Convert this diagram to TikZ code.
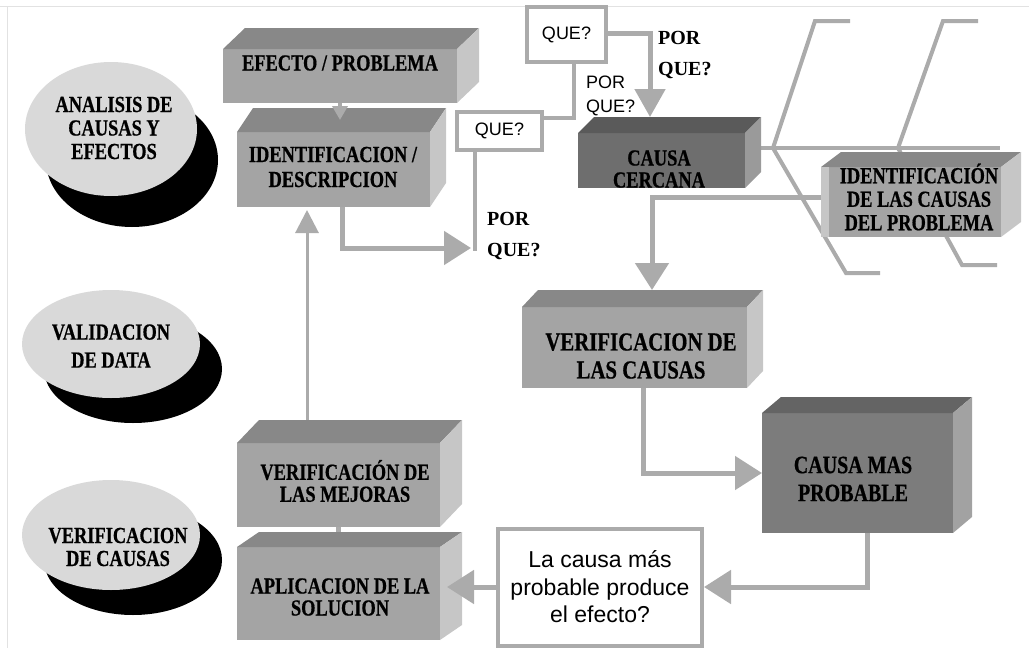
\documentclass[tikz,border=0pt]{standalone}
\usepackage{fontspec}
\setmainfont{Liberation Serif}
\newfontfamily\boxfnt{Liberation Serif}[FakeStretch=0.8, FakeBold=0.6]
\newfontfamily\sansfnt{Liberation Sans}
\usetikzlibrary{arrows.meta,shapes.geometric}
\pgfdeclarelayer{bg}
\pgfsetlayers{bg,main}
\definecolor{medf}{HTML}{A4A4A4}
\definecolor{medt}{HTML}{888888}
\definecolor{meds}{HTML}{C6C6C6}
\definecolor{darkaf}{HTML}{6E6E6E}
\definecolor{darkat}{HTML}{5A5A5A}
\definecolor{darkas}{HTML}{9A9A9A}
\definecolor{darkbf}{HTML}{7C7C7C}
\definecolor{darkbt}{HTML}{646464}
\definecolor{darkbs}{HTML}{A2A2A2}
\definecolor{ellc}{HTML}{D9D9D9}
\definecolor{linec}{HTML}{ABABAB}
\definecolor{framec}{HTML}{E2E2E2}
\newcommand\cubefaces[5]{%
  \fill[#4] (#1.north west) -- ([shift={(#2pt,#3pt)}]#1.north west) -- ([shift={(#2pt,#3pt)}]#1.north east) -- (#1.north east) -- cycle;
  \fill[#5] (#1.north east) -- ([shift={(#2pt,#3pt)}]#1.north east) -- ([shift={(#2pt,#3pt)}]#1.south east) -- (#1.south east) -- cycle;
  \coordinate (#1-t) at ([yshift=#3pt]#1.north);
}
\tikzset{
  face/.style={fill=#1, draw=none, inner sep=0pt, outer sep=0pt},
  btxt/.style args={#1/#2}{font=\boxfnt\bfseries\fontsize{#1}{#2}\selectfont, align=center, inner sep=0pt, text=black},
  ptxt/.style={font=\bfseries\fontsize{20}{31}\selectfont, align=left, inner sep=0pt, anchor=west},
  stxt/.style={font=\sansfnt\fontsize{18}{24}\selectfont, align=left, inner sep=0pt, anchor=west},
  elli/.style={ellipse, draw=none, inner sep=0pt, fill=#1},
  qbox/.style={draw=linec, line width=4pt, fill=white, inner sep=0pt, font=\sansfnt\fontsize{18}{22}\selectfont},
  conn/.style={draw=linec, line width=5pt},
  fish/.style={draw=linec, line width=4pt},
  Bigtri/.tip={Triangle[length=27pt,width=33pt]},
  Midtri/.tip={Triangle[length=23pt,width=23pt]},
  Smalltri/.tip={Triangle[length=14pt,width=15pt]},
}
\begin{document}
\begin{tikzpicture}[x=1pt,y=-1pt]
\useasboundingbox (0,0) rectangle (1029,648);
\draw[framec, line width=1pt] (0,6) -- (1029,6) (7,6) -- (7,648);

% ellipses with shadows
\node[elli=black, minimum width=172pt, minimum height=134pt] (e1s) at (132,160) {};
\node[elli=ellc, minimum width=172pt, minimum height=134pt] (e1) at (111,129) {};
\node[btxt=23/23.5] (e1t) at (114,128) {ANALISIS DE\\CAUSAS Y\\EFECTOS};
\node[elli=black, minimum width=178pt, minimum height=108pt] (e2s) at (133,369) {};
\node[elli=ellc, minimum width=178pt, minimum height=108pt] (e2) at (111,344) {};
\node[btxt=23/28] (e2t) at (111,346) {VALIDACION\\DE DATA};
\node[elli=black, minimum width=178pt, minimum height=110pt] (e3s) at (133,560) {};
\node[elli=ellc, minimum width=178pt, minimum height=110pt] (e3) at (111,535) {};
\node[btxt=23/23] (e3t) at (118,547) {VERIFICACION\\DE CAUSAS};

% 3D boxes
\node[face=medf, minimum width=234pt, minimum height=54pt] (efecto) at (340,76) {};
\cubefaces{efecto}{22}{21}{medt}{meds}
\node[btxt=23/25] (efectot) at (340,63) {EFECTO / PROBLEMA};

\node[face=medf, minimum width=193pt, minimum height=75pt] (ident) at (333.5,169.5) {};
\cubefaces{ident}{16}{24}{medt}{meds}
\node[btxt=23/25] (identt) at (333,167) {IDENTIFICACION /\\DESCRIPCION};

\node[face=darkaf, minimum width=167pt, minimum height=55pt] (cercana) at (661.5,160.5) {};
\cubefaces{cercana}{16}{16}{darkat}{darkas}
\node[btxt=23/22] (cercanat) at (659,169) {CAUSA\\CERCANA};

\node[face=medf, minimum width=180pt, minimum height=70pt] (idcausas) at (911,202) {};
\cubefaces{idcausas}{20}{15}{medt}{meds}
\fill[meds] (idcausas.north west) rectangle ([xshift=8pt]idcausas.south west);
\node[btxt=23/23.5] (idcausast) at (919,197) {IDENTIFICACIÓN\\DE LAS CAUSAS\\DEL PROBLEMA};

\node[face=medf, minimum width=225pt, minimum height=81pt] (vercausas) at (634.5,347.5) {};
\cubefaces{vercausas}{16}{17}{medt}{meds}
\node[btxt=26/28] (vercausast) at (641,356) {VERIFICACION DE\\LAS CAUSAS};

\node[face=darkbf, minimum width=191pt, minimum height=120pt] (masprob) at (857.5,473) {};
\cubefaces{masprob}{19}{16}{darkbt}{darkbs}
\node[btxt=25/28] (masprobt) at (853,479) {CAUSA MAS\\PROBABLE};

\node[face=medf, minimum width=203pt, minimum height=84pt] (mejoras) at (338.5,485) {};
\cubefaces{mejoras}{22}{23}{medt}{meds}
\node[btxt=23/22] (mejorast) at (345,481) {VERIFICACIÓN DE\\LAS MEJORAS};

\node[face=medf, minimum width=203pt, minimum height=93pt] (aplic) at (338.5,593.5) {};
\cubefaces{aplic}{22}{15}{medt}{meds}
\node[btxt=23/22] (aplict) at (340,597) {APLICACION DE LA\\SOLUCION};

% white boxes
\node[qbox, minimum width=85pt, minimum height=38pt] (que1) at (499.5,131) {QUE?};
\node[qbox, minimum width=79pt, minimum height=55pt] (que2) at (566.5,34.5) {QUE?};
\node[qbox, minimum width=204pt, minimum height=117pt, align=center,
      font=\sansfnt\fontsize{23}{27.5}\selectfont] (question) at (600,587)
      {La causa más\\probable produce\\el efecto?};

% labels
\node[ptxt] (pq1) at (487,236) {POR\\QUE?};
\node[ptxt] (pq2) at (658,55) {POR\\QUE?};
\node[stxt] (pq3) at (586,95.5) {POR\\QUE?};

% named coordinates
\coordinate (j1) at (475,248);
\coordinate (j2) at (574,118);
\coordinate (j3) at (650,33);
\coordinate (j4) at (652,197);
\coordinate (f0) at (1000,148);
\coordinate (b1) at (773,148);
\coordinate (b2) at (898,148);
\coordinate (u1) at (815,21);
\coordinate (u1e) at (850,21);
\coordinate (u2) at (943,21);
\coordinate (u2e) at (978,21);
\coordinate (d1) at (846,273);
\coordinate (d1e) at (880,273);
\coordinate (d2) at (962,265);
\coordinate (d2e) at (997,265);

% background connectors
\begin{pgfonlayer}{bg}
\draw[fish] (cercana.east |- f0) -- (f0);
\draw[fish] (u1e) -- (u1) -- (b1) -- (d1) -- (d1e);
\draw[fish] (u2e) -- (u2) -- (b2) -- (d2) -- (d2e);
\draw[conn] (aplic.north) -- (mejoras.south);
\end{pgfonlayer}

% foreground connectors
\draw[conn, line width=4pt, -{Smalltri}, shorten >=-12pt] (efecto.south) -- (efecto.south |- ident-t);
\draw[conn, -{Bigtri}] ([xshift=8.5pt]ident.south) |- ([xshift=-4pt]j1);
\draw[conn, line width=4pt] (que1.south -| j1) -- ([yshift=-3pt]j1);
\draw[conn, line width=4pt] (que2.south -| j2) -- (j2) -- (j2 -| que1.east);
\draw[conn, -{Triangle[length=28pt,width=30pt]}] (que2.east |- j3) -- (j3) -- (j3 |- cercana-t);
\draw[conn, -{Bigtri}] (j4 -| idcausas.west) -- (j4) -- (j4 |- vercausas-t);
\draw[conn, -{Bigtri}] ([xshift=8.5pt]vercausas.south) |- (masprob.west);
\draw[conn, -{Bigtri}] ([xshift=9.5pt]masprob.south) |- (question.east);
\draw[conn, -{Bigtri}, shorten >=7pt] (question.west) -- (question.west -| aplic.east);
\draw[conn, line width=3pt, -{Midtri}] ([xshift=-31.5pt]mejoras-t) -- ([xshift=-26.5pt,yshift=-3pt]ident.south);
\end{tikzpicture}
\end{document}
